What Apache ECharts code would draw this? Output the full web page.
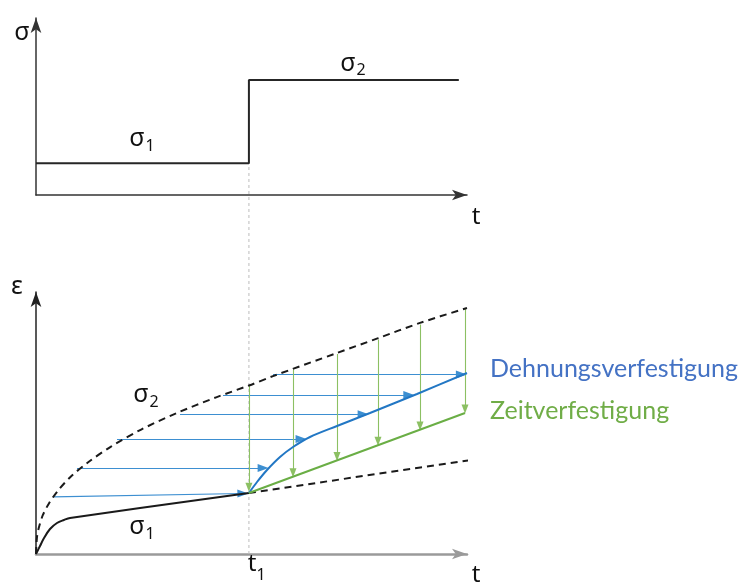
<!DOCTYPE html>
<html>
<head>
<meta charset="utf-8">
<script src="https://cdn.jsdelivr.net/npm/echarts@6/dist/echarts.min.js"></script>
<style>
  html, body { margin: 0; padding: 0; background: #fff; }
  #chart { width: 741px; height: 586px; }
</style>
</head>
<body>
<div id="chart"></div>
<script>
// Load step at t1: stress sigma1 before, sigma2 after
const t1 = 4.94;
const tEnd = 9.81;
const sigma1 = 1.8;
const sigma2 = 6.5;

// Creep curve under constant sigma1 (solid up to t1)
const creepSigma1 = [
  [0, 0], [0.093, 0.305], [0.186, 0.611], [0.325, 0.954], [0.487, 1.183],
  [0.650, 1.298], [0.789, 1.374], [4.94, 2.328]
];
// Continuation of the sigma1 curve past t1 (dashed)
const creepSigma1Ext = [[4.94, 2.328], [10.26, 3.63]];

// Creep curve under constant sigma2 (dashed)
const creepSigma2 = [
  [0, 0], [0.023, 0.65], [0.07, 1.03], [0.16, 1.49], [0.30, 1.93],
  [0.51, 2.42], [0.81, 2.96], [1.21, 3.50], [1.74, 4.10], [2.44, 4.75],
  [3.25, 5.37], [4.18, 5.98], [4.94, 6.43], [5.50, 6.79], [6.98, 7.67],
  [7.94, 8.24], [8.91, 8.82], [10.0, 9.39]
];

// Strain hardening response after the load step
const strainHardening = [
  [4.94, 2.328], [5.128, 2.748], [5.360, 3.206], [5.661, 3.702], [5.963, 4.084],
  [6.357, 4.466], [6.984, 4.885], [7.749, 5.382], [8.840, 6.107], [10.0, 6.908]
];

// Time hardening response after the load step
const timeHardening = [[4.94, 2.328], [9.954, 5.382]];

// Horizontal shifts (equal strain): [x start, y start, x end, y end]
const strainShifts = [
  [0.394, 2.18, 4.80, 2.31],
  [0.951, 3.28, 5.27, 3.28],
  [1.879, 4.39, 6.15, 4.39],
  [3.341, 5.33, 7.59, 5.33],
  [4.339, 6.07, 8.65, 6.07],
  [5.499, 6.85, 9.87, 6.85]
];

// Vertical shifts (equal time): [x, y start, y end]
const timeShifts = [
  [4.94, 6.43, 2.55],
  [5.963, 7.04, 3.10],
  [6.984, 7.63, 3.72],
  [7.935, 8.19, 4.30],
  [8.910, 8.76, 4.89],
  [9.954, 9.37, 5.53]
];

// Height of the t1 guide in strain-axis units (reaches up to the sigma1 level above)
const t1GuideTop = 14.92;

const stepData = [[0, sigma1], [t1, sigma1], [t1, sigma2], [tEnd, sigma2]];

const chart = echarts.init(document.getElementById('chart'), null, { renderer: 'canvas' });

const axisBase = {
  type: 'value',
  axisTick: { show: false },
  axisLabel: { show: false },
  splitLine: { show: false }
};

const greek = '"Noto Sans", "DejaVu Sans", sans-serif';
const latin = 'Lato, "Noto Sans", sans-serif';

function txt(x, y, text, size, color, font) {
  return {
    type: 'text', x: x, y: y, z: 50,
    style: {
      text: text, fill: color || '#111',
      font: size + 'px ' + (font || greek),
      textAlign: 'center', textVerticalAlign: 'middle'
    }
  };
}

const option = {
  animation: false,
  backgroundColor: '#fff',
  grid: [
    { left: 36, right: 274, top: 18, bottom: 391 },
    { left: 36, right: 274, top: 292, bottom: 32 }
  ],
  xAxis: [
    Object.assign({}, axisBase, {
      gridIndex: 0, min: 0, max: 10,
      axisLine: { show: true, symbol: ['none', 'arrow'], symbolSize: [8, 15],
        lineStyle: { color: '#333', width: 1.5 } }
    }),
    Object.assign({}, axisBase, {
      gridIndex: 1, min: 0, max: 10,
      axisLine: { show: true, symbol: ['none', 'arrow'], symbolSize: [8, 15],
        lineStyle: { color: '#9a9a9a', width: 2.5 } }
    })
  ],
  yAxis: [
    Object.assign({}, axisBase, {
      gridIndex: 0, min: 0, max: 10,
      axisLine: { show: true, symbol: ['none', 'arrow'], symbolSize: [8, 15],
        lineStyle: { color: '#333', width: 1.5 } }
    }),
    Object.assign({}, axisBase, {
      gridIndex: 1, min: 0, max: 10,
      axisLine: { show: true, symbol: ['none', 'arrow'], symbolSize: [8, 15],
        lineStyle: { color: '#222', width: 1.5 } }
    })
  ],
  series: [
    {
      name: 't1 guide', type: 'line', xAxisIndex: 1, yAxisIndex: 1, clip: false,
      data: [[t1, 0], [t1, t1GuideTop]], symbol: 'none', z: 1,
      lineStyle: { color: '#bdbdbd', width: 1, type: [3, 3] }
    },
    {
      name: 'stress', type: 'line', xAxisIndex: 0, yAxisIndex: 0,
      data: stepData, symbol: 'none',
      lineStyle: { color: '#262626', width: 2 }
    },
    {
      name: 'sigma1', type: 'line', xAxisIndex: 1, yAxisIndex: 1,
      data: creepSigma1, symbol: 'none', smooth: 0.35,
      lineStyle: { color: '#1a1a1a', width: 2 }
    },
    {
      name: 'sigma1 ext', type: 'line', xAxisIndex: 1, yAxisIndex: 1, clip: false,
      data: creepSigma1Ext, symbol: 'none',
      lineStyle: { color: '#1a1a1a', width: 2, type: [7, 5] }
    },
    {
      name: 'sigma2', type: 'line', xAxisIndex: 1, yAxisIndex: 1,
      data: creepSigma2, symbol: 'none', smooth: 0.3,
      lineStyle: { color: '#1a1a1a', width: 2, type: [7, 5] }
    },
    {
      name: 'strain shifts', type: 'lines', coordinateSystem: 'cartesian2d',
      xAxisIndex: 1, yAxisIndex: 1, z: 3,
      symbol: ['none', 'triangle'], symbolSize: [0, [8, 11]],
      lineStyle: { color: '#3d8fd1', width: 1.2, opacity: 1 },
      data: strainShifts.map(d => ({ coords: [[d[0], d[1]], [d[2], d[3]]] }))
    },
    {
      name: 'time shifts', type: 'lines', coordinateSystem: 'cartesian2d',
      xAxisIndex: 1, yAxisIndex: 1, z: 3,
      symbol: ['none', 'triangle'], symbolSize: [0, [7, 9]],
      lineStyle: { color: '#8cc063', width: 1.1, opacity: 1 },
      data: timeShifts.map(d => ({ coords: [[d[0], d[1]], [d[0], d[2]]] }))
    },
    {
      name: 'Dehnungsverfestigung', type: 'line', xAxisIndex: 1, yAxisIndex: 1,
      data: strainHardening, symbol: 'none', smooth: 0.3, z: 4,
      lineStyle: { color: '#2277c4', width: 2 }
    },
    {
      name: 'Zeitverfestigung', type: 'line', xAxisIndex: 1, yAxisIndex: 1,
      data: timeHardening, symbol: 'none', z: 4,
      lineStyle: { color: '#6aae45', width: 2 }
    }
  ],
  graphic: [
    txt(22, 33, 'σ', 25),
    txt(476, 217, 't', 24),
    txt(348, 64, 'σ', 25), txt(361, 70, '2', 16),
    txt(137, 139, 'σ', 25), txt(150, 146, '1', 16),
    txt(17, 287, 'ε', 25),
    txt(141, 395, 'σ', 25), txt(154, 402, '2', 16),
    txt(137, 527, 'σ', 25), txt(150, 534, '1', 16),
    txt(252, 564, 't', 24), txt(261, 575, '1', 16),
    txt(476, 575, 't', 24),
    {
      type: 'text', x: 490, y: 369, z: 50,
      style: { text: 'Dehnungsverfestigung', fill: '#4472c4', font: '25px ' + latin,
        textAlign: 'left', textVerticalAlign: 'middle' }
    },
    {
      type: 'text', x: 490, y: 411, z: 50,
      style: { text: 'Zeitverfestigung', fill: '#70ad47', font: '25px ' + latin,
        textAlign: 'left', textVerticalAlign: 'middle' }
    }
  ]
};

chart.setOption(option);
</script>
</body>
</html>
